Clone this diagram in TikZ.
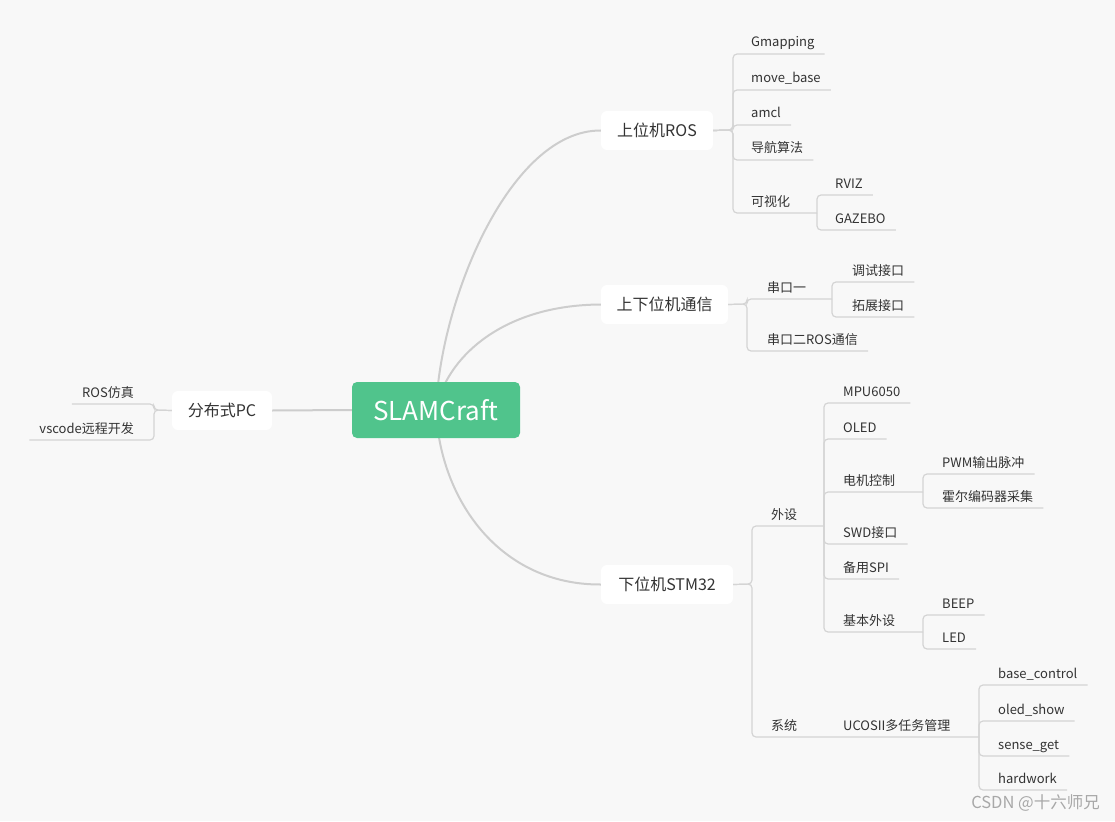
\documentclass[tikz,border=0pt]{standalone}
\usepackage{fontspec}
\setmainfont{Noto Sans CJK SC}
\usetikzlibrary{calc}
\definecolor{bgc}{HTML}{F8F8F8}
\definecolor{txt}{HTML}{333333}
\definecolor{lineC}{HTML}{D4D4D4}
\definecolor{curveC}{HTML}{CDCDCD}
\definecolor{rootC}{HTML}{50C48C}
\definecolor{wmC}{HTML}{A8A8A8}
\pgfdeclarelayer{back}
\pgfdeclarelayer{bg}
\pgfsetlayers{back,bg,main}
\newcommand\leafR[3]{\draw[br] (#1) -- (#2) -- ($(#2 |- #3.base)+(0,7)$) -- ($(#3.base east)+(10,7)$);}
\newcommand\leafS[2]{\draw[br] (#1) -- ($(#1 |- #2.base)+(0,7)$) -- ($(#2.base east)+(10,7)$);}
\newcommand\leafL[3]{\draw[br] (#1) -- (#2) -- ($(#2 |- #3.base)+(0,7)$) -- ($(#3.base west)+(-10,7)$);}
\begin{document}
\begin{tikzpicture}[x=1pt,y=-1pt,
  root/.style={fill=rootC, rounded corners=5pt, minimum width=168pt, minimum height=56pt, text=white, inner sep=0pt, font=\fontsize{26}{30}\selectfont},
  mainbox/.style={fill=white, rounded corners=6pt, minimum height=39pt, inner sep=0pt, text=txt, font=\fontsize{16}{19}\selectfont},
  leaf/.style={anchor=base west, inner sep=0pt, text=txt, font=\fontsize{13}{15}\selectfont},
  leafl/.style={anchor=base east, inner sep=0pt, text=txt, font=\fontsize{13}{15}\selectfont},
  br/.style={draw=lineC, line width=1.2pt, rounded corners=4pt},
  curve/.style={draw=curveC, line width=2pt}]
\begin{pgfonlayer}{back}
\fill[bgc] (0,0) rectangle (1115,821);
\end{pgfonlayer}
\useasboundingbox (0,0) rectangle (1115,821);

% root and main branches
\node[root] (root) at (436,410) {SLAMCraft};
\node[mainbox, minimum width=112pt] (ros) at (657,130.5) {上位机ROS};
\node[mainbox, minimum width=127pt] (comm) at (664.5,304.5) {上下位机通信};
\node[mainbox, minimum width=132pt] (stm) at (667,584.5) {下位机STM32};
\node[mainbox, minimum width=100pt] (pc) at (222,410.5) {分布式PC};

\begin{pgfonlayer}{bg}
\draw[curve] (root.center) .. controls (440,300) and (510,130) .. (ros.west);
\draw[curve] (root.center) .. controls (445,360) and (500,305) .. (comm.west);
\draw[curve] (root.center) .. controls (440,500) and (500,585) .. (stm.west);
\draw[curve] (root.west) -- (pc.east);
\end{pgfonlayer}

% ---- 上位机ROS
\coordinate (rosJ) at (733,130);
\node[leaf] (gmap) at (751,47) {Gmapping};
\node[leaf] (mb) at (751,83) {move\_base};
\node[leaf] (amcl) at (751,118) {amcl};
\node[leaf] (nav) at (751,153) {导航算法};
\node[leaf] (vis) at (751,206) {可视化};
\coordinate (visJ) at (817,213);
\node[leaf] (rviz) at (835,188) {RVIZ};
\node[leaf] (gaz) at (835,223) {GAZEBO};
\leafR{ros.east}{rosJ}{gmap}
\leafR{ros.east}{rosJ}{mb}
\leafR{ros.east}{rosJ}{amcl}
\leafR{ros.east}{rosJ}{nav}
\draw[br] (ros.east) -- (rosJ) -- (rosJ |- visJ) -- (visJ);
\leafS{visJ}{rviz}
\leafS{visJ}{gaz}

% ---- 上下位机通信
\coordinate (commJ) at (747,304);
\node[leaf] (s1) at (767,292) {串口一};
\coordinate (s1J) at (832,299);
\node[leaf] (s2) at (767,344) {串口二ROS通信};
\node[leaf] (ts) at (852,275) {调试接口};
\node[leaf] (kz) at (852,310) {拓展接口};
\draw[br] (comm.east) -- (commJ) -- (commJ |- s1J) -- (s1J);
\leafR{comm.east}{commJ}{s2}
\leafS{s1J}{ts}
\leafS{s1J}{kz}

% ---- 下位机STM32
\coordinate (stmJ) at (752,584);
\node[leaf] (ws) at (771,519) {外设};
\coordinate (wsJ) at (824,526);
\node[leaf] (xt) at (771,730) {系统};
\node[leaf] (ucos) at (843,730) {UCOSII多任务管理};
\coordinate (ucosJ) at (979,737);
\draw[br] (stm.east) -- (stmJ) -- (stmJ |- wsJ) -- (wsJ);
\draw[br] (stm.east) -- (stmJ) -- (stmJ |- ucosJ) -- (ucosJ);

\node[leaf] (mpu) at (843,396) {MPU6050};
\node[leaf] (oled) at (843,432) {OLED};
\node[leaf] (mc) at (843,485) {电机控制};
\coordinate (mcJ) at (923,492);
\node[leaf] (swd) at (843,537) {SWD接口};
\node[leaf] (spi) at (843,572) {备用SPI};
\node[leaf] (jb) at (843,625) {基本外设};
\coordinate (jbJ) at (923,632);
\leafS{wsJ}{mpu}
\leafS{wsJ}{oled}
\draw[br] (wsJ) -- (wsJ |- mcJ) -- (mcJ);
\leafS{wsJ}{swd}
\leafS{wsJ}{spi}
\draw[br] (wsJ) -- (wsJ |- jbJ) -- (jbJ);

\node[leaf] (pwm) at (942,467) {PWM输出脉冲};
\node[leaf] (hall) at (942,501) {霍尔编码器采集};
\leafS{mcJ}{pwm}
\leafS{mcJ}{hall}
\node[leaf] (beep) at (942,608) {BEEP};
\node[leaf] (led) at (942,642) {LED};
\leafS{jbJ}{beep}
\leafS{jbJ}{led}

\node[leaf] (bc) at (998,678) {base\_control};
\node[leaf] (os) at (998,714) {oled\_show};
\node[leaf] (sg) at (998,749) {sense\_get};
\node[leaf] (hw) at (998,783) {hardwork};
\leafS{ucosJ}{bc}
\leafS{ucosJ}{os}
\leafS{ucosJ}{sg}
\leafS{ucosJ}{hw}

% ---- 分布式PC
\coordinate (pcJ) at (154,410);
\node[leafl] (rf) at (134,397) {ROS仿真};
\node[leafl] (vs) at (134,433) {vscode远程开发};
\leafL{pc.west}{pcJ}{rf}
\leafL{pc.west}{pcJ}{vs}

% watermark
\node[anchor=east, inner sep=0pt, text=wmC, font=\fontsize{16.5}{19}\selectfont] (wm) at (1100,803) {CSDN @十六师兄};
\end{tikzpicture}
\end{document}
